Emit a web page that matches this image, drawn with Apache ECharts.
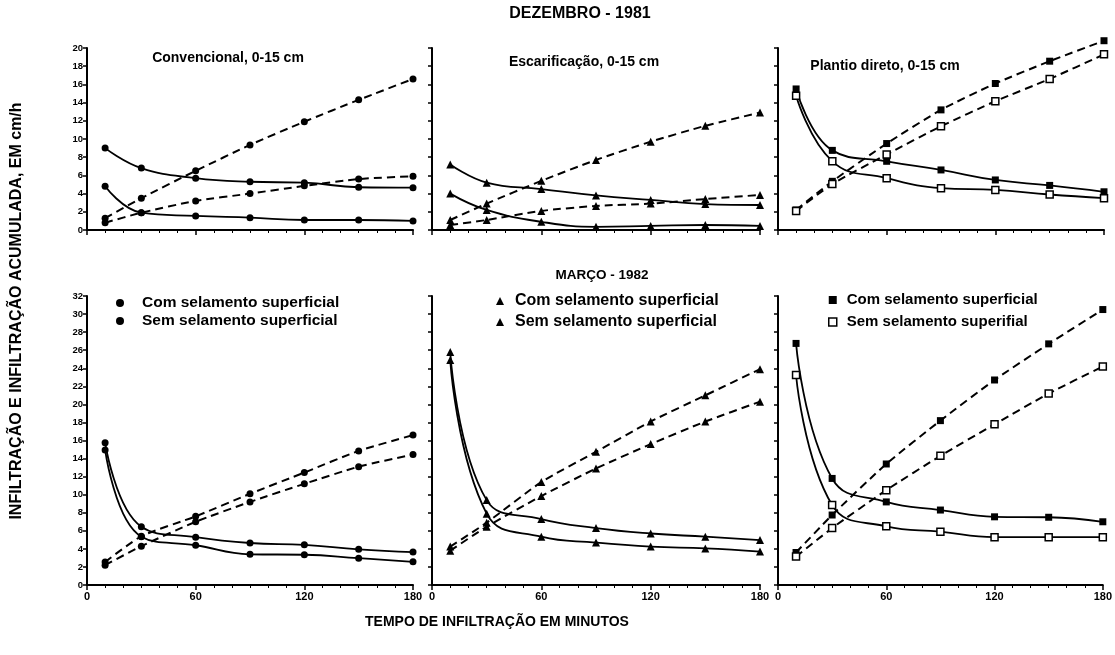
<!DOCTYPE html>
<html>
<head>
<meta charset="utf-8">
<script src="https://cdn.jsdelivr.net/npm/echarts@6/dist/echarts.min.js"></script>
<style>html,body{margin:0;padding:0;background:#fff}#c{width:1115px;height:655px}</style>
</head>
<body>
<div id="c"></div>
<script>
// ---- data ----
const times = [10, 30, 60, 90, 120, 150, 180];
const xTicks = [0, 60, 120, 180];
const yTicksTop = [0, 2, 4, 6, 8, 10, 12, 14, 16, 18, 20];
const yTicksBottom = [0, 2, 4, 6, 8, 10, 12, 14, 16, 18, 20, 22, 24, 26, 28, 30, 32];

// Dezembro 1981 - Convencional
const dezConvRateA = [9.0, 6.8, 5.7, 5.3, 5.2, 4.7, 4.65];
const dezConvRateB = [4.8, 1.9, 1.55, 1.35, 1.1, 1.1, 1.0];
const dezConvCumA  = [1.3, 3.5, 6.5, 9.35, 11.9, 14.3, 16.6];
const dezConvCumB  = [0.8, 1.9, 3.2, 4.0, 4.85, 5.6, 5.9];
// Dezembro 1981 - Escarificação
const dezEscRateA = [7.2, 5.2, 4.5, 3.8, 3.3, 2.85, 2.75];
const dezEscRateB = [4.0, 2.2, 0.9, 0.35, 0.45, 0.55, 0.45];
const dezEscCumA  = [1.1, 2.9, 5.4, 7.7, 9.7, 11.45, 12.9];
const dezEscCumB  = [0.55, 1.1, 2.1, 2.65, 2.9, 3.4, 3.85];
// Dezembro 1981 - Plantio direto
const dezPdRateA = [15.5, 8.75, 7.55, 6.6, 5.5, 4.9, 4.2];
const dezPdRateB = [14.75, 7.55, 5.7, 4.6, 4.4, 3.9, 3.5];
const dezPdCumA  = [2.2, 5.35, 9.5, 13.2, 16.1, 18.55, 20.8];
const dezPdCumB  = [2.1, 5.05, 8.3, 11.4, 14.15, 16.6, 19.3];
// Março 1982 - Convencional
const marConvRateA = [15.75, 6.45, 5.3, 4.65, 4.45, 3.95, 3.65];
const marConvRateB = [14.95, 5.35, 4.4, 3.4, 3.35, 2.97, 2.57];
const marConvCumA  = [2.55, 5.4, 7.6, 10.1, 12.45, 14.85, 16.6];
const marConvCumB  = [2.2, 4.3, 7.0, 9.2, 11.2, 13.1, 14.45];
// Março 1982 - Escarificação
const marEscRateA = [25.8, 9.4, 7.3, 6.3, 5.7, 5.35, 4.98];
const marEscRateB = [24.9, 7.9, 5.35, 4.7, 4.25, 4.05, 3.7];
const marEscCumA  = [4.25, 6.9, 11.4, 14.75, 18.1, 21.0, 23.9];
const marEscCumB  = [3.8, 6.45, 9.85, 12.9, 15.6, 18.1, 20.3];
// Março 1982 - Plantio direto
const marPdRateA = [26.75, 11.8, 9.2, 8.3, 7.55, 7.5, 7.0];
const marPdRateB = [23.25, 8.85, 6.5, 5.9, 5.3, 5.3, 5.3];
const marPdCumA  = [3.6, 7.75, 13.4, 18.2, 22.7, 26.7, 30.5];
const marPdCumB  = [3.15, 6.3, 10.5, 14.3, 17.8, 21.2, 24.2];

const legendCom = 'Com selamento superficial';
const legendSem = 'Sem selamento superficial';
const legendSemPd = 'Sem selamento superifial';

// ---- layout ----
const FONT = '"Liberation Sans", Arial, sans-serif';
const colX = [[87, 326], [432, 328], [778, 326]];
const rowY = [[48, 182], [296, 289]];

const panels = [
  {row:0, col:0, sym:'circle', size:7, data:[dezConvRateA, dezConvRateB, dezConvCumA, dezConvCumB], names:['a0','b0'], openB:false},
  {row:0, col:1, sym:'triangle', size:8, data:[dezEscRateA, dezEscRateB, dezEscCumA, dezEscCumB], names:['a1','b1'], openB:false},
  {row:0, col:2, sym:'rect', size:7, data:[dezPdRateA, dezPdRateB, dezPdCumA, dezPdCumB], names:['a2','b2'], openB:true},
  {row:1, col:0, sym:'circle', size:7, data:[marConvRateA, marConvRateB, marConvCumA, marConvCumB], names:[legendCom+'#3', legendSem+'#3'], openB:false},
  {row:1, col:1, sym:'triangle', size:8, data:[marEscRateA, marEscRateB, marEscCumA, marEscCumB], names:[legendCom+'#4', legendSem+'#4'], openB:false},
  {row:1, col:2, sym:'rect', size:7, data:[marPdRateA, marPdRateB, marPdCumA, marPdCumB], names:[legendCom+'#5', legendSemPd+'#5'], openB:true}
];

const xLabelStyle = {color:'#000', fontFamily:FONT, fontWeight:'bold', fontSize:11, margin:6, hideOverlap:false, showMinLabel:true, showMaxLabel:true};

const grids = [], xAxes = [], yAxes = [], series = [];
panels.forEach((p, i) => {
  grids.push({left: colX[p.col][0], width: colX[p.col][1], top: rowY[p.row][0], height: rowY[p.row][1]});
  xAxes.push({
    type:'value', gridIndex:i, min:xTicks[0], max:xTicks[xTicks.length-1], interval:60,
    axisLine:{show:true, onZero:false, lineStyle:{color:'#000', width:2}},
    axisTick:{show:true, length:5, lineStyle:{color:'#000', width:1.5}},
    minorTick:{show:true, splitNumber:6, length:3, lineStyle:{color:'#000', width:1}},
    splitLine:{show:false},
    axisLabel: Object.assign({show:p.row===1}, xLabelStyle)
  });
  const yt = p.row === 0 ? yTicksTop : yTicksBottom;
  yAxes.push({
    type:'value', gridIndex:i, min:yt[0], max:yt[yt.length-1], interval:2,
    axisLine:{show:true, onZero:false, lineStyle:{color:'#000', width:2}},
    axisTick:{show:true, length:4, lineStyle:{color:'#000', width:1.5}},
    splitLine:{show:false},
    axisLabel:{show:p.col===0, color:'#000', fontFamily:FONT, fontWeight:'bold', fontSize:9.5, margin:4, hideOverlap:false}
  });
  const kinds = [
    {vals:p.data[0], name:p.names[0], dashed:false, open:false},
    {vals:p.data[1], name:p.names[1], dashed:false, open:p.openB},
    {vals:p.data[2], name:p.names[0], dashed:true, open:false},
    {vals:p.data[3], name:p.names[1], dashed:true, open:p.openB}
  ];
  kinds.forEach(k => {
    series.push({
      type:'line', xAxisIndex:i, yAxisIndex:i, name:k.name,
      data: times.map((t, j) => [t, k.vals[j]]),
      smooth: k.dashed ? 0.2 : 0.45,
      symbol: p.sym, symbolSize: p.size, showSymbol:true,
      lineStyle:{color:'#000', width: k.dashed ? 2 : 1.8, type: k.dashed ? [8, 5] : 'solid'},
      itemStyle: k.open ? {color:'#fff', borderColor:'#000', borderWidth:1.5} : {color:'#000', borderColor:'#000', borderWidth:0},
      clip:false, animation:false, silent:true
    });
  });
});

function mkLegend(iconX, top, gap, pad, fs, p, icon, openSecond) {
  return {
    show:true, orient:'vertical', left: iconX - 4, top: top, padding:0, itemWidth:8, itemHeight:8, itemGap:gap,
    selectedMode:false,
    formatter: n => n.split('#')[0],
    textStyle:{color:'#000', fontFamily:FONT, fontWeight:'bold', fontSize:fs, lineHeight:16, padding:[0,0,0,pad]},
    data:[
      {name:p.names[0], icon:icon, itemStyle:{color:'#000', borderWidth:0}},
      {name:p.names[1], icon:icon, itemStyle: openSecond ? {color:'#fff', borderColor:'#000', borderWidth:1.5} : {color:'#000', borderWidth:0}}
    ]
  };
}
const legends = [
  mkLegend(120, 295, 2, 13, 15.5, panels[3], 'circle', false),
  mkLegend(500, 293, 5, 6, 16, panels[4], 'triangle', false),
  mkLegend(832, 292, 6, 5, 15, panels[5], 'rect', true)
];

function txt(x, y, text, size, rot) {
  return {type:'text', x:x, y:y, rotation: rot || 0, silent:true,
    style:{text:text, fill:'#000', font:'bold ' + size + 'px ' + FONT, align:'center', verticalAlign:'middle'}};
}

const titles = [
  txt(580, 14, 'DEZEMBRO - 1981', 16),
  txt(602, 275, 'MARÇO - 1982', 13.5),
  txt(228, 58, 'Convencional, 0-15 cm', 14),
  txt(584, 62, 'Escarificação, 0-15 cm', 14),
  txt(885, 66, 'Plantio direto, 0-15 cm', 14),
  txt(497, 622, 'TEMPO DE INFILTRAÇÃO EM MINUTOS', 14),
  txt(17, 311, 'INFILTRAÇÃO E INFILTRAÇÃO ACUMULADA, EM cm/h', 16, Math.PI / 2)
];

const chart = echarts.init(document.getElementById('c'), null, {renderer:'canvas'});
chart.setOption({
  backgroundColor:'#fff',
  animation:false,
  grid: grids,
  xAxis: xAxes,
  yAxis: yAxes,
  legend: legends,
  series: series,
  graphic: titles
});
</script>
</body>
</html>
